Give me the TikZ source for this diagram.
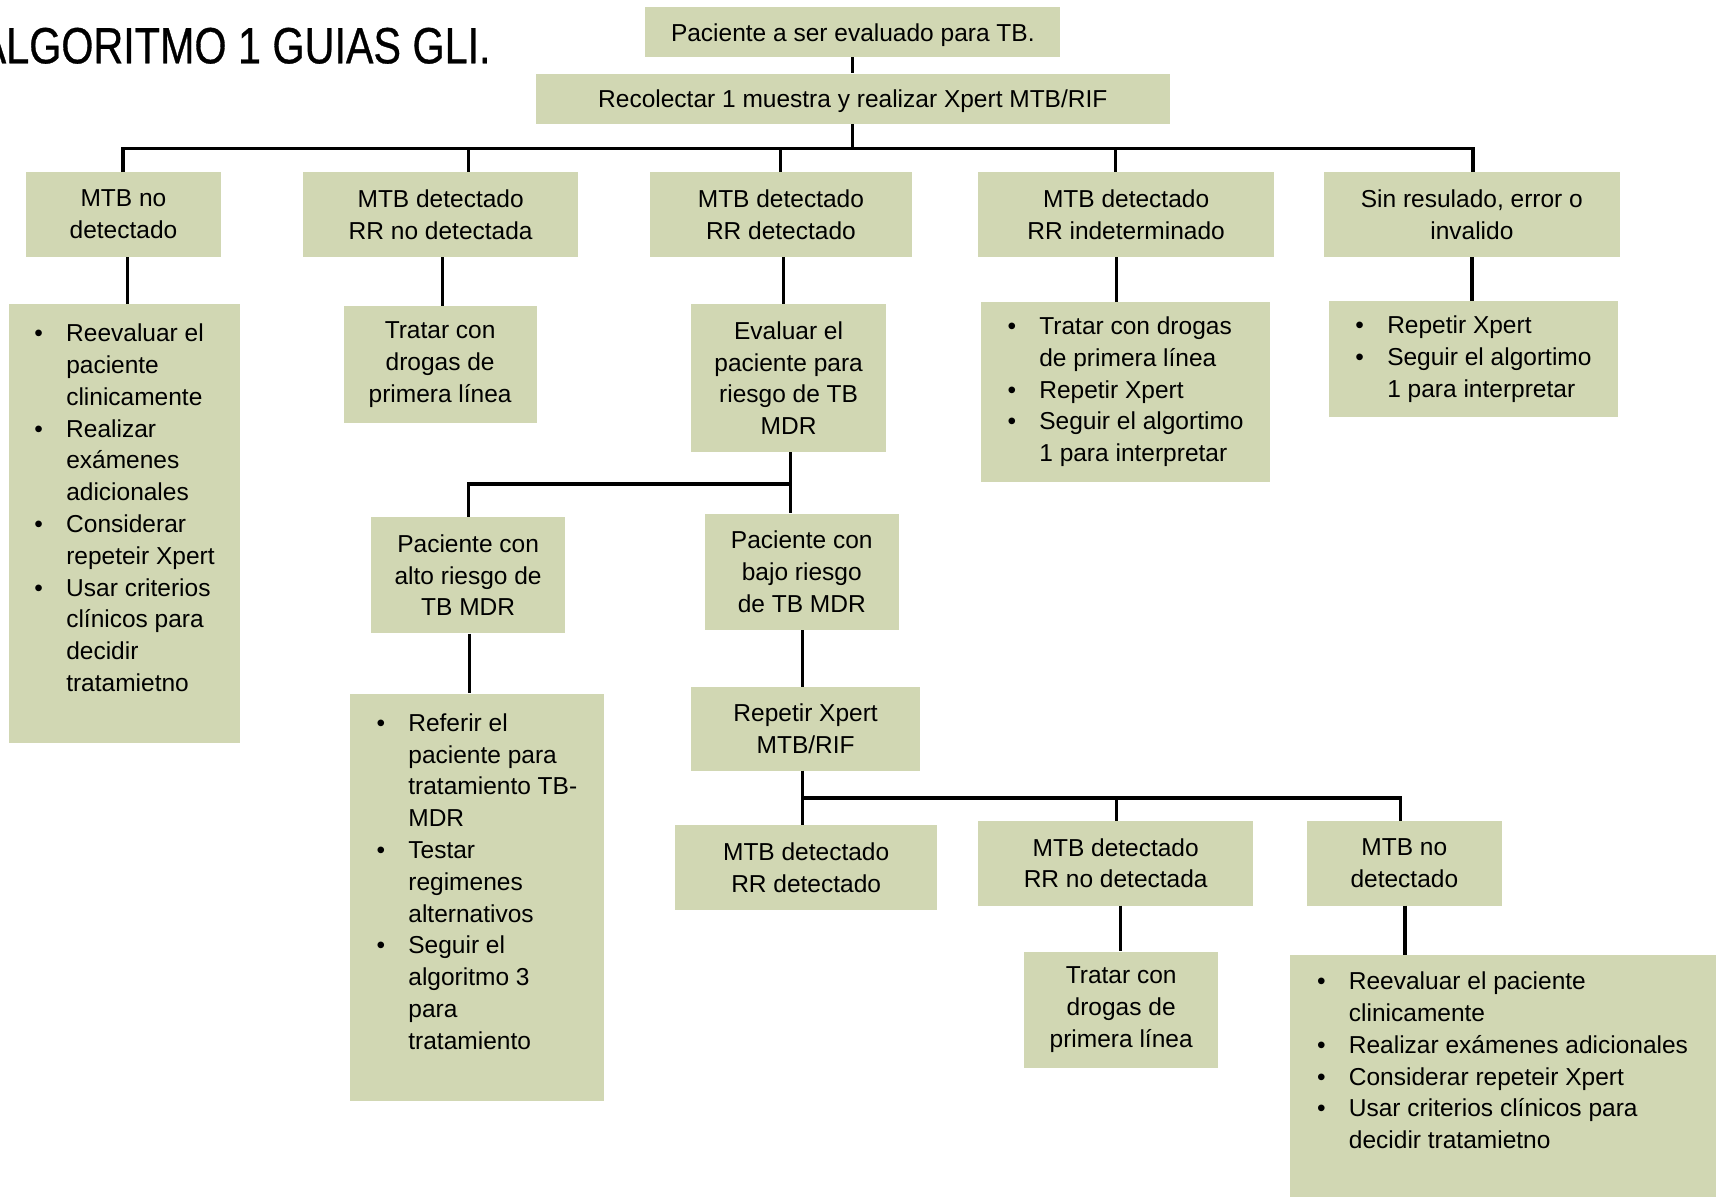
\documentclass[tikz,border=0pt]{standalone}
\usepackage{fontspec}
\setmainfont{Liberation Sans}
\newfontfamily\titlefont[FakeStretch=0.81,FakeBold=0.6]{Liberation Sans}
\definecolor{boxc}{RGB}{209,215,179}
\newcommand\bl{\makebox[31.8pt][l]{\textbullet}}
\newcommand\ind{\hspace*{31.8pt}}
\tikzset{
 box/.style={fill=boxc, inner sep=0pt, align=center, font=\fontsize{24.5pt}{31.8pt}\selectfont,
   execute at begin node={\rule{0pt}{23.5pt}}},
 lbox/.style={box, align=left},
 sz/.style 2 args={minimum width=#1*1.0976pt, minimum height=#2*1.0976pt},
 conn/.style={line width=3.3pt, line join=miter},
}
\begin{document}
\begin{tikzpicture}[x=1.0976pt, y=-1.0976pt]
\useasboundingbox (0,0) rectangle (1568,1091);
\node[anchor=base west, inner sep=0pt, font=\titlefont\fontsize{51pt}{51pt}\selectfont] (title) at (-19.6,57.7) {ALGORITMO 1 GUIAS GLI.};

\node[box, sz={378}{46}] (a) at (777,29) {Paciente a ser evaluado para TB.};
\node[box, sz={578}{46}] (b) at (777,90) {Recolectar 1 muestra y realizar Xpert MTB/RIF};

\node[box, sz={177}{77}] (c1) at (112.5,195.5) {MTB no\\detectado};
\node[box, sz={251}{77}] (c2) at (401.5,195.5) {MTB detectado\\RR no detectada};
\node[box, sz={239}{77}] (c3) at (711.5,195.5) {MTB detectado\\RR detectado};
\node[box, sz={270}{77}] (c4) at (1026,195.5) {MTB detectado\\RR indeterminado};
\node[box, sz={270}{77}] (c5) at (1341,195.5) {Sin resulado, error o\\invalido};

\node[lbox, sz={211}{400}] (d1) at (113.5,477) {\bl Reevaluar el\\\ind paciente\\\ind clinicamente\\\bl Realizar\\\ind exámenes\\\ind adicionales\\\bl Considerar\\\ind repeteir Xpert\\\bl Usar criterios\\\ind clínicos para\\\ind decidir\\\ind tratamietno\\\mbox{}};
\node[box, sz={176}{106}] (d2) at (401,332) {Tratar con\\drogas de\\primera línea};
\node[box, sz={177}{135}] (d3) at (718.5,344.5) {Evaluar el\\paciente para\\riesgo de TB\\MDR};
\node[lbox, sz={263}{164}] (d4) at (1025.5,357) {\bl Tratar con drogas\\\ind de primera línea\\\bl Repetir Xpert\\\bl Seguir el algortimo\\\ind 1 para interpretar};
\node[lbox, sz={263}{106}] (d5) at (1342.5,327) {\bl Repetir Xpert\\\bl Seguir el algortimo\\\ind 1 para interpretar};

\node[box, sz={177}{106}] (e1) at (426.5,524) {Paciente con\\alto riesgo de\\TB MDR};
\node[box, sz={177}{106}] (e2) at (730.5,521) {Paciente con\\bajo riesgo\\de TB MDR};

\node[lbox, sz={231}{371}] (f1) at (434.5,817.5) {\bl Referir el\\\ind paciente para\\\ind tratamiento TB-\\\ind MDR\\\bl Testar\\\ind regimenes\\\ind alternativos\\\bl Seguir el\\\ind algoritmo 3\\\ind para\\\ind tratamiento\\\mbox{}};
\node[box, sz={208}{76}] (f2) at (734,664) {Repetir Xpert\\MTB/RIF};

\node[box, sz={239}{77}] (g1) at (734.5,790.5) {MTB detectado\\RR detectado};
\node[box, sz={251}{77}] (g2) at (1016.5,786.5) {MTB detectado\\RR no detectada};
\node[box, sz={177}{77}] (g3) at (1279.5,786.5) {MTB no\\detectado};

\node[box, sz={177}{106}] (h2) at (1021.5,920) {Tratar con\\drogas de\\primera línea};
\node[lbox, sz={388}{221}] (h3) at (1369,980.5) {\bl Reevaluar el paciente\\\ind clinicamente\\\bl Realizar exámenes adicionales\\\bl Considerar repeteir Xpert\\\bl Usar criterios clínicos para\\\ind decidir tratamietno\\\mbox{}};

% junction coordinates
\coordinate (j0) at (777,135);
\coordinate (jb1) at (112,135);
\coordinate (jb2) at (427,135);
\coordinate (jb3) at (711,135);
\coordinate (jb4) at (1016,135);
\coordinate (jb5) at (1342,135);
\coordinate (k1) at (116,0);
\coordinate (k2) at (403,0);
\coordinate (k3) at (714,0);
\coordinate (k4) at (1017,0);
\coordinate (k5) at (1341,0);
\coordinate (m1) at (427,441);
\coordinate (m2) at (720,441);
\coordinate (k6) at (428,0);
\coordinate (k7) at (731,0);
\coordinate (n0) at (731,727);
\coordinate (n1) at (1017,727);
\coordinate (n2) at (1276,727);
\coordinate (k8) at (1021,0);
\coordinate (k9) at (1280,0);

\draw[conn] (a) -- (b);
\draw[conn] (b) -- (j0);
\draw[conn] (jb1 |- c1.north) -- (jb1) -- (jb5) -- (jb5 |- c5.north);
\draw[conn] (jb2) -- (jb2 |- c2.north);
\draw[conn] (jb3) -- (jb3 |- c3.north);
\draw[conn] (jb4) -- (jb4 |- c4.north);

\draw[conn] (k1 |- c1.south) -- (k1 |- d1.north);
\draw[conn] (k2 |- c2.south) -- (k2 |- d2.north);
\draw[conn] (k3 |- c3.south) -- (k3 |- d3.north);
\draw[conn] (k4 |- c4.south) -- (k4 |- d4.north);
\draw[conn] (k5 |- c5.south) -- (k5 |- d5.north);

\draw[conn] (m1 |- e1.north) -- (m1) -- (m2);
\draw[conn] (m2 |- d3.south) -- (m2 |- e2.north);

\draw[conn] (k6 |- e1.south) -- (k6 |- f1.north);
\draw[conn] (k7 |- e2.south) -- (k7 |- f2.north);

\draw[conn] (n0 |- f2.south) -- (n0 |- g1.north);
\draw[conn] (n0) -- (n2) -- (n2 |- g3.north);
\draw[conn] (n1) -- (n1 |- g2.north);

\draw[conn] (k8 |- g2.south) -- (k8 |- h2.north);
\draw[conn] (k9 |- g3.south) -- (k9 |- h3.north);
\end{tikzpicture}
\end{document}
